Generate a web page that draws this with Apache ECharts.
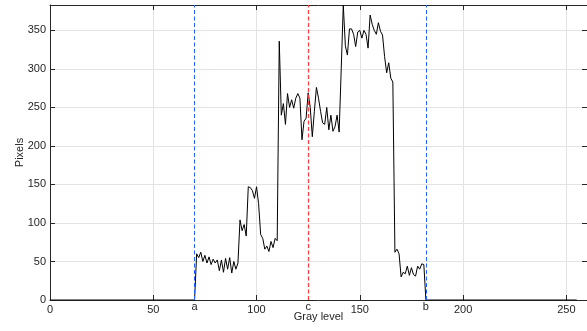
<!DOCTYPE html>
<html>
<head>
<meta charset="utf-8">
<script src="https://cdn.jsdelivr.net/npm/echarts@6/dist/echarts.min.js"></script>
<style>
html,body{margin:0;padding:0;background:#fff;}
#chart{width:587px;height:331px;}
</style>
</head>
<body>
<div id="chart"></div>
<script>
// Gray level (x) and pixel count (y); flat zero stretches given by their end points
const grayLevel = [0, 70,
  71, 72, 73, 74, 75, 76, 77, 78, 79, 80,
  81, 82, 83, 84, 85, 86, 87, 88, 89, 90,
  91, 92, 93, 94, 95, 96, 97, 98, 99, 100,
  101, 102, 103, 104, 105, 106, 107, 108, 109, 110,
  111, 112, 113, 114, 115, 116, 117, 118, 119, 120,
  121, 122, 123, 124, 125, 126, 127, 128, 129, 130,
  131, 132, 133, 134, 135, 136, 137, 138, 139, 140,
  141, 142, 143, 144, 145, 146, 147, 148, 149, 150,
  151, 152, 153, 154, 155, 156, 157, 158, 159, 160,
  161, 162, 163, 164, 165, 166, 167, 168, 169, 170,
  171, 172, 173, 174, 175, 176, 177, 178, 179, 180,
  181, 182, 255];
const pixelCount = [0, 0,
  60, 55, 62, 50, 58, 48, 56, 46, 53, 48,
  52, 38, 52, 36, 54, 40, 55, 35, 50, 40,
  48, 104, 90, 98, 83, 147, 146, 142, 132, 147,
  125, 85, 80, 66, 70, 63, 76, 68, 80, 77,
  336, 240, 255, 228, 268, 250, 260, 249, 262, 268,
  262, 208, 232, 236, 269, 250, 212, 245, 276, 262,
  245, 230, 228, 250, 221, 240, 219, 225, 240, 218,
  300, 383, 330, 318, 352, 352, 345, 329, 348, 350,
  340, 350, 345, 327, 370, 358, 350, 345, 360, 349,
  344, 316, 295, 308, 288, 283, 62, 66, 60, 30,
  36, 34, 44, 32, 42, 33, 31, 44, 40, 47,
  46, 0, 0];
const xTicks = [0, 50, 100, 150, 200, 250];
const yTicks = [0, 50, 100, 150, 200, 250, 300, 350];
const markNames = ['a', 'c', 'b'];
const markValues = [70, 125, 182];
const markColors = ['#2060ff', '#ff3b3b', '#2060ff'];
const markWidths = [1, 1.2, 1];

const FONT = 'Liberation Sans, Arial, Helvetica, sans-serif';
const TXT = '#262626';
const seriesData = grayLevel.map((g, i) => [g, pixelCount[i]]);

const chart = echarts.init(document.getElementById('chart'), null, {renderer: 'canvas'});
const axisCommon = {
  type: 'value',
  axisLine: {show: true, onZero: false, lineStyle: {color: TXT, width: 1}},
  axisTick: {show: true, inside: true, length: 5, lineStyle: {color: TXT}},
};
const markSeries = markValues.map((v, i) => ({
  type: 'line',
  name: 'mark-' + markNames[i],
  xAxisIndex: 0, yAxisIndex: 0,
  data: [],
  color: markColors[i],
  z: 2,
  markLine: {
    silent: true,
    symbol: ['none', 'none'],
    animation: false,
    lineStyle: {color: markColors[i], type: [4, 2.5], width: markWidths[i], opacity: 1},
    label: {show: true, position: 'start', distance: 1, formatter: '{b}',
      fontFamily: FONT, fontSize: 11, color: TXT},
    data: [{name: markNames[i], xAxis: v}]
  }
}));
chart.setOption({
  animation: false,
  backgroundColor: '#fff',
  grid: {left: 50, right: 0, top: 5, bottom: 31, containLabel: false, outerBoundsMode: 'none'},
  xAxis: [
    Object.assign({}, axisCommon, {
      position: 'bottom', min: 0, max: 260, interval: 50,
      name: 'Gray level', nameLocation: 'middle', nameGap: 11,
      nameMoveOverlap: false,
      nameTextStyle: {fontFamily: FONT, fontSize: 11, color: TXT},
      axisLabel: {show: true, margin: 4, fontFamily: FONT, fontSize: 11, color: TXT, showMaxLabel: false,
        formatter: v => xTicks.indexOf(v) >= 0 ? String(v) : ''},
      splitLine: {show: true, lineStyle: {color: '#e3e3e3', width: 1}}
    }),
    Object.assign({}, axisCommon, {
      position: 'top', min: 0, max: 260, interval: 50,
      axisLabel: {show: false}, splitLine: {show: false}
    })
  ],
  yAxis: [
    Object.assign({}, axisCommon, {
      position: 'left', min: 0, max: 383, interval: 50,
      name: 'Pixels', nameLocation: 'middle', nameGap: 25, nameRotate: 90,
      nameMoveOverlap: false,
      nameTextStyle: {fontFamily: FONT, fontSize: 11, color: TXT},
      axisLabel: {show: true, margin: 4, fontFamily: FONT, fontSize: 11, color: TXT, showMaxLabel: false,
        formatter: v => yTicks.indexOf(v) >= 0 ? String(v) : ''},
      splitLine: {show: true, lineStyle: {color: '#e3e3e3', width: 1}}
    }),
    Object.assign({}, axisCommon, {
      position: 'right', min: 0, max: 383, interval: 50,
      axisLabel: {show: false}, splitLine: {show: false}
    })
  ],
  series: [{
    type: 'line',
    name: 'histogram',
    xAxisIndex: 0, yAxisIndex: 0,
    data: seriesData,
    showSymbol: false,
    symbol: 'none',
    color: '#000',
    lineStyle: {color: '#000', width: 1},
    z: 3
  }].concat(markSeries)
});
</script>
</body>
</html>
